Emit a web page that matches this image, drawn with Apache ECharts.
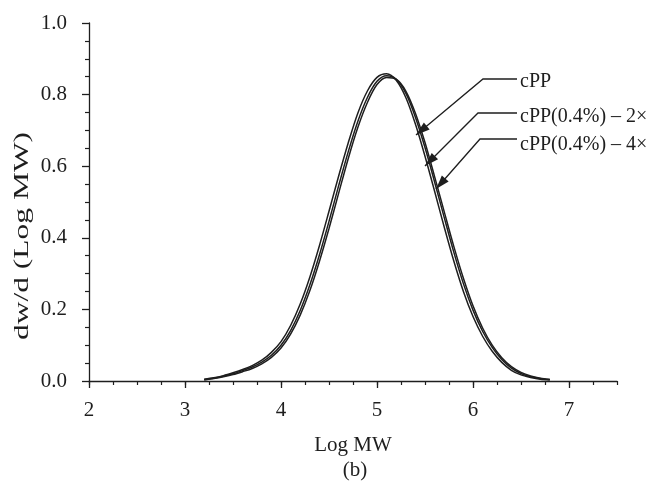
<!DOCTYPE html>
<html>
<head>
<meta charset="utf-8">
<script src="https://cdn.jsdelivr.net/npm/echarts@6/dist/echarts.min.js"></script>
<style>
html,body{margin:0;padding:0;background:#fff;}
#c{width:657px;height:485px;}
</style>
</head>
<body>
<div id="c"></div>
<script>
// ---- data ----
var logMW = [3.2,3.3,3.4,3.5,3.6,3.7,3.8,3.9,4.0,4.1,4.2,4.3,4.4,4.5,4.6,4.7,4.8,4.9,5.0,5.1,5.2,5.3,5.4,5.5,5.6,5.7,5.8,5.9,6.0,6.1,6.2,6.3,6.4,6.5,6.6,6.7,6.8];
var cPP   = [0.005,0.009,0.015,0.023,0.032,0.043,0.058,0.080,0.110,0.155,0.215,0.290,0.378,0.474,0.572,0.665,0.748,0.810,0.848,0.858,0.840,0.792,0.718,0.628,0.530,0.430,0.335,0.250,0.180,0.125,0.083,0.052,0.030,0.017,0.010,0.005,0.003];
var cPP2x = [0.004,0.008,0.013,0.020,0.029,0.039,0.053,0.072,0.100,0.141,0.197,0.268,0.352,0.446,0.545,0.640,0.725,0.792,0.837,0.853,0.843,0.804,0.737,0.652,0.556,0.457,0.360,0.272,0.198,0.139,0.094,0.060,0.036,0.021,0.012,0.007,0.004];
var cPP4x = [0.003,0.007,0.012,0.018,0.026,0.035,0.048,0.066,0.092,0.131,0.184,0.252,0.334,0.426,0.524,0.621,0.708,0.778,0.828,0.848,0.843,0.810,0.748,0.666,0.571,0.473,0.376,0.287,0.210,0.148,0.100,0.065,0.040,0.024,0.014,0.008,0.004];
var seriesNames = ['cPP','cPP(0.4%) \u2013 2\u00d7','cPP(0.4%) \u2013 4\u00d7'];
var xTicks = [2,3,4,5,6,7];
var yTicks = [0.0,0.2,0.4,0.6,0.8,1.0];
var xTitle = 'Log MW';
var yTitle = 'dw/d (Log MW)';
var caption = '(b)';

// ---- chart ----
var FONT = '"Liberation Serif","Times New Roman",serif';
var FS = 21;
var INK = '#1e1e1e';
function pairs(xs, ys){ return xs.map(function(x,i){ return [x, ys[i]]; }); }
var allSeries = [cPP, cPP2x, cPP4x];

var chart = echarts.init(document.getElementById('c'), null, {renderer:'canvas'});

var ann = [
  {tx:520, ty:82,  hx0:483, hx1:517, hy:79,  tipX:416, tipY:135},
  {tx:520, ty:117, hx0:478, hx1:517, hy:113, tipX:425, tipY:166},
  {tx:520, ty:145, hx0:480, hx1:517, hy:139, tipX:436, tipY:189}
];
var graphics = [];
ann.forEach(function(a, i){
  graphics.push({type:'polyline', silent:true, shape:{points:[[a.hx1,a.hy],[a.hx0,a.hy],[a.tipX,a.tipY]]}, style:{stroke:INK, lineWidth:1.3, fill:null}, z:10});
  var dx = a.tipX - a.hx0, dy = a.tipY - a.hy, L = Math.sqrt(dx*dx+dy*dy);
  var ux = dx/L, uy = dy/L, len = 14, w = 4.5;
  var bx = a.tipX - ux*len, by = a.tipY - uy*len;
  graphics.push({type:'polygon', silent:true, shape:{points:[[a.tipX,a.tipY],[bx - uy*w, by + ux*w],[bx + uy*w, by - ux*w]]}, style:{fill:INK}, z:10});
  graphics.push({type:'text', silent:true, style:{text:seriesNames[i], x:a.tx, y:a.ty, font:'20px '+FONT, fill:INK, textVerticalAlign:'middle', textAlign:'left'}, z:10});
});
graphics.push({type:'text', silent:true, rotation:Math.PI/2, scaleX:1.5, x:22, y:236, style:{text:yTitle, font:FS+'px '+FONT, fill:INK, textAlign:'center', textVerticalAlign:'middle'}});
graphics.push({type:'text', silent:true, style:{text:xTitle, x:353, y:445, font:FS+'px '+FONT, fill:INK, textAlign:'center', textVerticalAlign:'middle'}});
graphics.push({type:'text', silent:true, style:{text:caption, x:355, y:470, font:FS+'px '+FONT, fill:INK, textAlign:'center', textVerticalAlign:'middle'}});

var option = {
  animation:false,
  backgroundColor:'#fff',
  grid:{left:89, right:40, top:23, bottom:104, containLabel:false},
  xAxis:[{
    type:'value', min:2, max:7.5, interval:1,
    axisLine:{show:true, onZero:false, lineStyle:{color:INK, width:1.3}},
    axisTick:{show:true, length:7, customValues:xTicks, lineStyle:{color:INK, width:1.3}},
    axisLabel:{show:true, customValues:xTicks, margin:19, color:INK, fontSize:FS, fontFamily:FONT, formatter:function(v){return String(v);}},
    splitLine:{show:false}
  },{
    type:'value', min:2, max:7.5, interval:0.25, position:'bottom',
    axisLine:{show:false},
    axisTick:{show:true, length:4, lineStyle:{color:INK, width:1.2}},
    axisLabel:{show:false},
    splitLine:{show:false}
  }],
  yAxis:{
    type:'value', min:0, max:1, interval:0.2,
    axisLine:{show:true, onZero:false, lineStyle:{color:INK, width:1.3}},
    axisTick:{show:true, length:7, lineStyle:{color:INK, width:1.3}},
    minorTick:{show:true, splitNumber:4, length:4, lineStyle:{color:INK, width:1.2}},
    axisLabel:{show:true, margin:22, color:INK, fontSize:FS, fontFamily:FONT, formatter:function(v){return v.toFixed(1);}},
    splitLine:{show:false}
  },
  series: allSeries.map(function(ys, i){
    return {
      name: seriesNames[i], type:'line', xAxisIndex:0, data: pairs(logMW, ys),
      smooth:0.3, symbol:'none', showSymbol:false,
      lineStyle:{color:INK, width:1.5}
    };
  }),
  graphic: graphics
};
chart.setOption(option);
</script>
</body>
</html>
